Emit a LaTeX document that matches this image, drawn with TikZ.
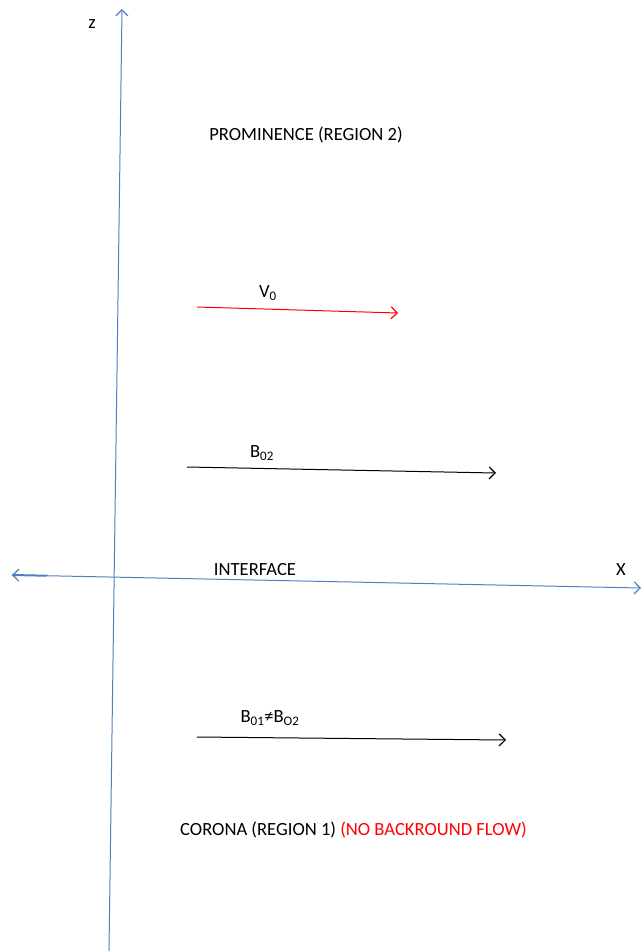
\documentclass[tikz,border=0pt]{standalone}
\usepackage{fontspec}
\setmainfont{Carlito}
\usetikzlibrary{arrows.meta}
\definecolor{axisblue}{RGB}{79,129,189}
\definecolor{flowred}{RGB}{255,0,0}
\begin{document}
\begin{tikzpicture}[x=1pt,y=-1pt,
  lbl/.style={inner sep=0pt,font=\fontsize{18.6}{20}\selectfont},
  axisline/.style={draw=axisblue,line width=1pt},
  vec/.style={line width=1pt,-{Straight Barb[length=6pt,width=12pt,line width=1.2pt]}},
  tipA/.style={-{Straight Barb[length=6pt,width=12pt,line width=1.2pt]}}]
\useasboundingbox (0,0) rectangle (641,951);
% axes
\coordinate (zb) at (109,951);
\coordinate (zt) at (122,9);
\draw[axisline,tipA] (zb) -- (zt);
\coordinate (xl) at (12,575);
\coordinate (xr) at (641,588);
\draw[axisline,{Straight Barb[length=6pt,width=12pt,line width=1.2pt]}-{Straight Barb[length=6pt,width=12pt,line width=1.2pt]}] (xl) -- (xr);
\coordinate (xls) at (47,575.7);
\draw[draw=axisblue,line width=2pt] (xl) -- (xls);
\node[lbl] (zlab) at (92,24) {z};
\node[lbl] (xlab) at (621,570) {X};
\node[lbl] (iface) at (255,570) {INTERFACE};
% texts
\node[lbl] (prom) at (306,135) {PROMINENCE (REGION 2)};
\node[lbl,anchor=west] (cor) at (180,830) {CORONA (REGION 1) \textcolor{flowred}{(NO BACKROUND FLOW)}};
% vectors
\coordinate (v0a) at (197,307);
\coordinate (v0b) at (398,313);
\draw[vec,draw=flowred] (v0a) -- (v0b);
\node[lbl] (v0l) at (268,293) {V\textsubscript{0}};
\coordinate (b2a) at (187,467);
\coordinate (b2b) at (496,473);
\draw[vec] (b2a) -- (b2b);
\node[lbl] (b2l) at (262,453) {B\textsubscript{02}};
\coordinate (b1a) at (197,737);
\coordinate (b1b) at (506,740);
\draw[vec] (b1a) -- (b1b);
\node[lbl] (b1l) at (270,718) {B\textsubscript{01}≠B\textsubscript{O2}};
\end{tikzpicture}
\end{document}
